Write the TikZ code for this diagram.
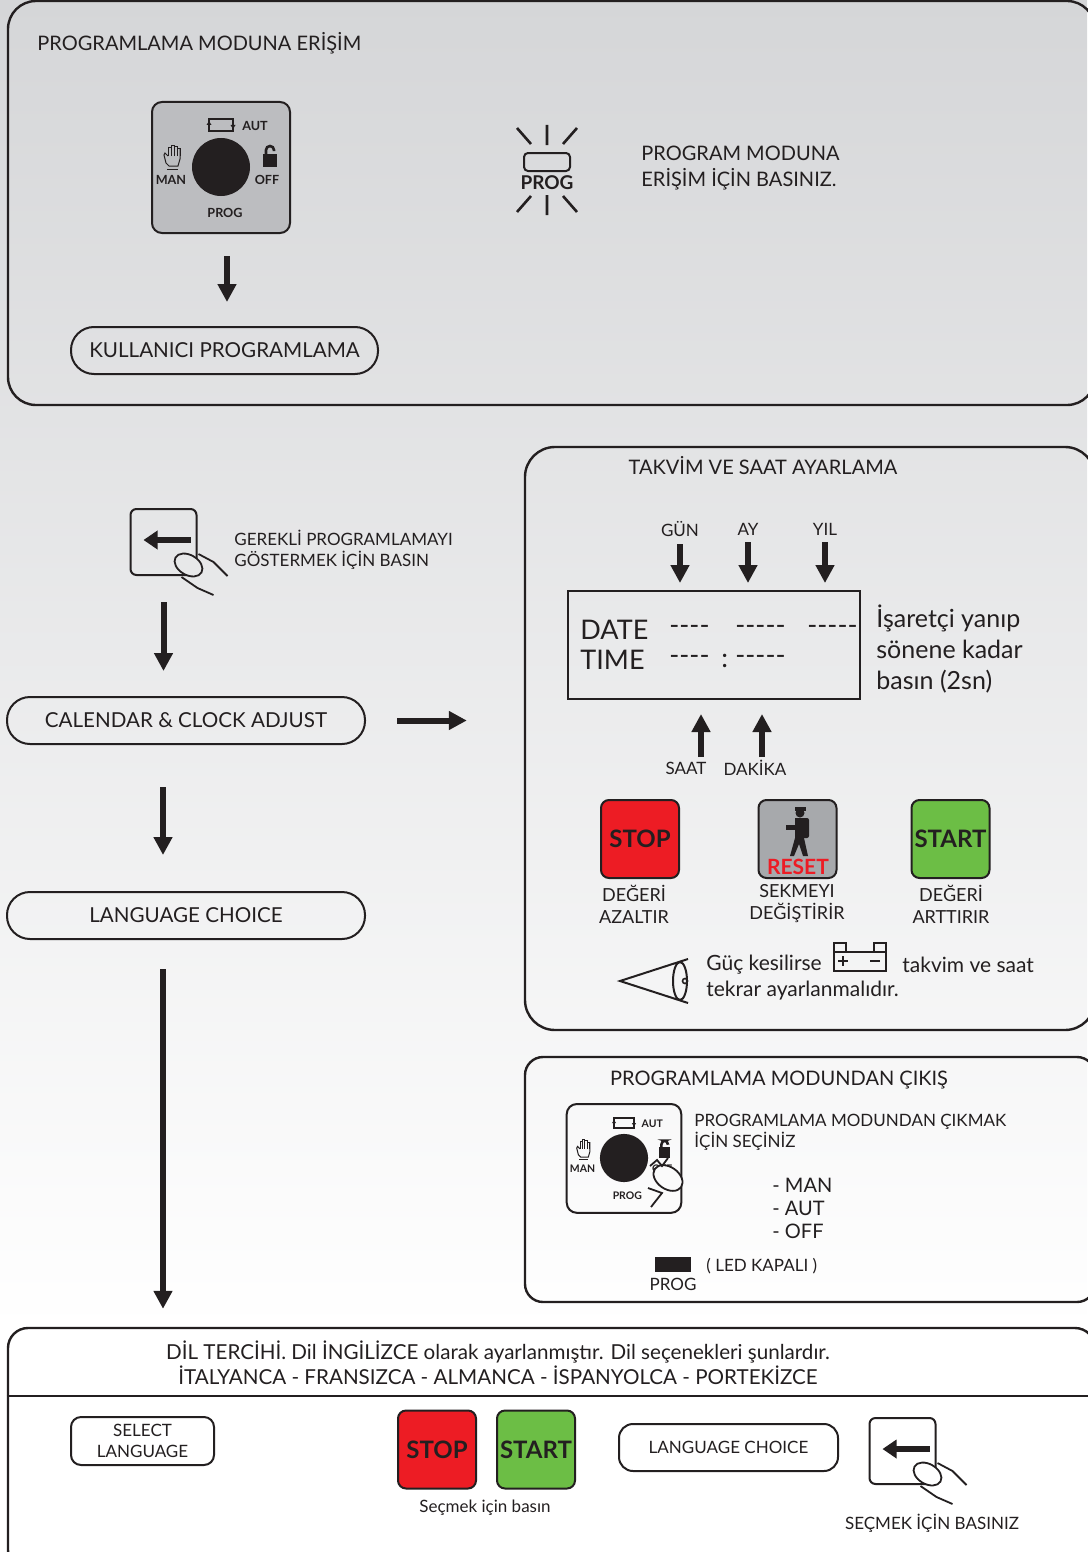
\documentclass[tikz,border=0pt]{standalone}
\usepackage{fontspec}
\setmainfont{Lato}
\usetikzlibrary{arrows.meta,positioning}
\definecolor{bgtop}{HTML}{D5D6D8}
\definecolor{ink}{HTML}{231F20}
\definecolor{knobgray}{HTML}{BCBDC0}
\definecolor{resetgray}{HTML}{A7A9AC}
\definecolor{stopred}{HTML}{ED1C24}
\definecolor{startgreen}{HTML}{6CBE45}
\tikzset{
  pics/knob/.style={code={
    \node[draw, line width=1pt, rounded corners=5pt, fill=#1, minimum width=69pt, minimum height=65.5pt] (-box) at (0,0.5) {};
    \fill (0,0) circle (29);
    % selector symbols
    \draw[line width=0.8pt] (-12,-48) rectangle (12,-36);
    \fill (12,-38) -- (9.5,-42) -- (14.5,-42) -- cycle;
    \fill (-12,-46) -- (-14.5,-42) -- (-9.5,-42) -- cycle;
    \foreach \fx/\fy in {-53/-20,-50/-22,-47/-21,-44/-19}
      \draw[line width=0.5pt] (\fx,-11) -- (\fx,\fy) -- (\fx+3,\fy) -- (\fx+3,-11);
    \draw[line width=0.5pt] (-53,-11) -- (-56,-14) -- (-57,-12) -- (-55,-4) -- (-52,-1) -- (-43,-1) -- (-41,-8) -- (-41,-19);
    \draw[line width=0.5pt] (-54,2) -- (-43,2);
    \fill (42,-13) rectangle (56,0);
    \draw[line width=1.3pt, rounded corners=2pt] (45,-13) -- (45,-21) -- (53,-21) -- (53,-16);
    \node[knoblabel] (-aut) at (34,-41) {AUT};
    \node[knoblabel] (-man) at (-50,13) {MAN};
    \node[knoblabel] (-off) at (46,13) {OFF};
    \node[knoblabel] (-prog) at (4,46) {PROG};
  }},
  pics/keypress/.style={code={
    \node[draw, line width=1pt, rounded corners=3pt, minimum width=33pt, minimum height=33pt] (-box) at (0,0) {};
    \draw[line width=3pt, -{Triangle[width=9pt,length=7pt]}] (27,-2) -- (-20,-2);
    \filldraw[line width=0.9pt, fill=#1, rotate around={-30:(25,23)}] (25,23) ellipse (15 and 10);
    \draw[line width=0.9pt] (35,12) -- (50,20) -- (64,34);
    \draw[line width=0.9pt] (18,35) -- (34,46) -- (50,53);
  }}
}
\begin{document}
\begin{tikzpicture}[x=0.5pt, y=-0.5pt, >={Triangle[width=9pt,length=9pt]}, color=ink,
    bigarrow/.style={->, line width=3pt},
    panel/.style={draw, line width=1.2pt, inner sep=0pt},
    pill/.style={draw, line width=1pt, minimum height=23.5pt, rounded corners=11.5pt, font=\fontsize{10.3}{12}\selectfont},
    btn/.style={draw, line width=1pt, rounded corners=4pt, inner sep=0pt, minimum width=39pt, minimum height=39pt, font=\bfseries\fontsize{12}{12}\selectfont},
    txt/.style={inner sep=0pt, font=\fontsize{10}{13}\selectfont},
    small/.style={inner sep=0pt, font=\fontsize{8.5}{10.5}\selectfont},
    lbl/.style={inner sep=0pt, align=center, font=\fontsize{9}{11}\selectfont},
    lcdtxt/.style={inner sep=0pt, anchor=west, font=\fontsize{13.5}{15}\selectfont},
    knoblabel/.style={inner sep=0pt, font=\bfseries\fontsize{6.3}{7}\selectfont}]
  \useasboundingbox (0,0) rectangle (1087,1552);
  \shade[top color=bgtop, bottom color=white] (0,0) rectangle (1087,1330);
  \fill[white] (0,1330) rectangle (1087,1552);

  % panels
  \node[panel, rounded corners=14pt, minimum width=543.5pt, minimum height=202pt] (panel1) at (551.5,203) {};
  \node[panel, rounded corners=15pt, minimum width=285pt, minimum height=291.5pt] (panel2) at (810,738.5) {};
  \node[panel, rounded corners=9pt, minimum width=285pt, minimum height=122.5pt] (panel3) at (810,1179.5) {};
  \node[panel, rounded corners=10pt, fill=white, minimum width=543.5pt, minimum height=121pt] (panel4) at (551.5,1449) {};

  % access to programming mode
  \node[txt, anchor=west] (t1) at (37,43) {PROGRAMLAMA MODUNA ERİŞİM};
  \pic (knob1) at (221,167) {knob=knobgray};
  \node[pill, minimum width=153.5pt] (kul) at (224.5,350.5) {KULLANICI PROGRAMLAMA};
  \draw[bigarrow, shorten <=11pt, shorten >=12pt] ([xshift=3pt]knob1-box.south) -- ([xshift=3pt]knob1-box.south |- kul.north);
  \draw[line width=1pt, rounded corners=2pt] (524,153) rectangle (570,171);
  \draw[line width=1.3pt] (547,125) -- (547,145) (517,128) -- (531,144) (577,128) -- (563,144)
    (547,195) -- (547,215) (517,212) -- (531,196) (577,212) -- (563,196);
  \node[inner sep=0pt, font=\bfseries\fontsize{9.5}{10}\selectfont] (ledprog) at (547,183) {PROG};
  \node[txt, anchor=west, align=left] (ledtxt) at (641,168) {PROGRAM MODUNA\\ERİŞİM İÇİN BASINIZ.};

  % left column
  \coordinate (col) at (163,0);
  \pic (key1) at (163.5,542) {keypress=bgtop!57!white};
  \node[small, anchor=west, align=left] (keytxt) at (234,549.5) {GEREKLİ PROGRAMLAMAYI\\GÖSTERMEK İÇİN BASIN};
  \node[pill, minimum width=179pt] (cal) at (186,720.5) {CALENDAR \& CLOCK ADJUST};
  \node[pill, minimum width=179pt] (lang) at (186,915.5) {LANGUAGE CHOICE};
  \draw[bigarrow, shorten <=13pt, shorten >=12.5pt] (key1-box.south) -- (key1-box.south |- cal.north);
  \draw[bigarrow, shorten <=15.5pt, shorten >=28.5pt] (cal.east) -- (cal.east -| panel2.west);
  \draw[bigarrow, shorten <=21pt, shorten >=18pt] (cal.south -| col) -- (lang.north -| col);
  \draw[bigarrow, shorten <=14.5pt, shorten >=9pt] (lang.south -| col) -- (panel4.north -| col);

  % calendar and clock
  \node[txt] (t2) at (763,466) {TAKVİM VE SAAT AYARLAMA};
  \node[small] (gun) at (680,529) {GÜN};
  \node[small] (ay) at (748,529) {AY};
  \node[small] (yil) at (825,529) {YIL};
  \node[draw, line width=1pt, minimum width=146pt, minimum height=54pt, inner sep=0pt] (lcd) at (714,645) {};
  \foreach \n in {gun,ay,yil}
    \draw[bigarrow, line width=2.6pt, shorten <=3.5pt, shorten >=3.5pt] (\n.south) -- (\n.south |- lcd.north);
  \node[lcdtxt] (date) at (580,630) {DATE};
  \node[lcdtxt] (time) at (580,660) {TIME};
  \node[lcdtxt] (d1) at (669,630) {-{}-{}-{}-};
  \node[lcdtxt] (d2) at (735,630) {-{}-{}-{}-{}-};
  \node[lcdtxt] (d3) at (807,630) {-{}-{}-{}-{}-};
  \node[lcdtxt] (h1) at (669,660) {-{}-{}-{}-};
  \node[lcdtxt] (colon) at (721,661) {:};
  \node[lcdtxt] (m1) at (735,660) {-{}-{}-{}-{}-};
  \node[anchor=west, align=left, inner sep=0pt, font=\fontsize{12.5}{15.5}\selectfont] (hint) at (876,649) {İşaretçi yanıp\\sönene kadar\\basın (2sn)};
  \coordinate (sa) at (701,757);
  \coordinate (dk) at (762,757);
  \draw[bigarrow, line width=2.6pt, shorten >=7pt] (sa) -- (sa |- lcd.south);
  \draw[bigarrow, line width=2.6pt, shorten >=7pt] (dk) -- (dk |- lcd.south);
  \node[small] (saat) at (686,768) {SAAT};
  \node[small] (dakika) at (755,768) {DAKİKA};
  \node[btn, fill=stopred] (stop1) at (640,839) {STOP};
  \node[btn, fill=resetgray] (reset) at (797.5,839) {};
  \node[btn, fill=startgreen] (start1) at (950.5,839) {START};
  \fill (800,813) circle (4.5);
  \fill (795,807) rectangle (806,811);
  \fill[rounded corners=1pt] (800,818) rectangle (809,838);
  \fill (795,818) rectangle (803,840);
  \fill (786,825) rectangle (797,830);
  \fill (795,838) -- (790,856) -- (794,856) -- (799,844) -- (803,856) -- (808,856) -- (804,838) -- cycle;
  \node[inner sep=0pt, text=stopred, font=\bfseries\fontsize{10.5}{11}\selectfont] (resettxt) at (798,867) {RESET};
  \node[lbl] (azal) at (634,904) {DEĞERİ\\AZALTIR};
  \node[lbl] (sekme) at (797,904) {SEKMEYI\\DEĞİŞTİRİR};
  \node[lbl] (artt) at (951,904) {DEĞERİ\\ARTTIRIR};
  \draw[line width=1pt] (688,959) -- (620,981) -- (688,1003);
  \draw[line width=1pt] (680,981) ellipse (7 and 19);
  \draw[line width=0.8pt] (685,981) circle (2.5);
  \node[txt, anchor=west, font=\fontsize{10.5}{13}\selectfont] (guc) at (706,965) {Güç kesilirse};
  \draw[line width=0.7pt] (834,952) rectangle (886,971) (834,952) rectangle (846,943) (874,952) rectangle (886,943);
  \draw[line width=0.6pt] (838,961) -- (848,961) (843,956) -- (843,966) (870,961) -- (880,961);
  \node[txt, anchor=west, font=\fontsize{10.5}{13}\selectfont] (takvim) at (902,965) {takvim ve saat};
  \node[txt, anchor=west, font=\fontsize{10.5}{13}\selectfont] (tekrar) at (706,991) {tekrar ayarlanmalıdır.};

  % leaving programming mode
  \node[txt] (t3) at (779,1080) {PROGRAMLAMA MODUNDAN ÇIKIŞ};
  \begin{scope}[shift={(624,1158)}, scale=0.83, transform shape]
    \pic (knob2) at (0,0) {knob=none};
  \end{scope}
  \filldraw[line width=0.9pt, fill=bgtop!12!white, rotate around={-35:(668,1178)}] (668,1178) ellipse (16 and 11);
  \draw[line width=0.9pt] (650,1166) -- (657,1160) -- (662,1166) -- (668,1158);
  \draw[line width=0.9pt] (648,1188) -- (662,1193) -- (651,1207);
  \node[small, anchor=west, align=left] (exittxt) at (694,1132.5) {PROGRAMLAMA MODUNDAN ÇIKMAK\\İÇİN SEÇİNİZ};
  \node[anchor=west, align=left, inner sep=0pt, font=\fontsize{10}{11.5}\selectfont] (modes) at (772,1208) {- MAN\\- AUT\\- OFF};
  \node[fill=ink, minimum width=18pt, minimum height=7.5pt, inner sep=0pt] (led) at (673,1264.5) {};
  \node[small, anchor=west] (ledoff) at (706,1266) {( LED KAPALI )};
  \node[small] (ledlbl) at (673,1284) {PROG};

  % language choice
  \coordinate (sep) at (0,1396);
  \draw[line width=1.2pt] (panel4.west |- sep) -- (panel4.east |- sep);
  \node[txt, align=center, font=\fontsize{10.3}{12.5}\selectfont] (dil) at (498,1362.5) {DİL TERCİHİ. Dil İNGİLİZCE olarak ayarlanmıştır. Dil seçenekleri şunlardır.\\İTALYANCA - FRANSIZCA - ALMANCA - İSPANYOLCA - PORTEKİZCE};
  \node[draw, line width=1pt, rounded corners=5pt, minimum width=71.5pt, minimum height=24pt, align=center, font=\fontsize{8.5}{10.5}\selectfont] (sel) at (142.5,1441) {SELECT\\LANGUAGE};
  \node[btn, fill=stopred] (stop2) at (437,1449.5) {STOP};
  \node[btn, fill=startgreen] (start2) at (536,1449.5) {START};
  \node[small] (secmek) at (485,1508) {Seçmek için basın};
  \node[draw, line width=1pt, rounded corners=7pt, minimum width=109.5pt, minimum height=23.5pt, font=\fontsize{8.5}{10}\selectfont] (lang2) at (728.5,1447.5) {LANGUAGE CHOICE};
  \pic (key2) at (902.5,1451) {keypress=white};
  \node[small] (secmek2) at (932,1523) {SEÇMEK İÇİN BASINIZ};
\end{tikzpicture}
\end{document}
